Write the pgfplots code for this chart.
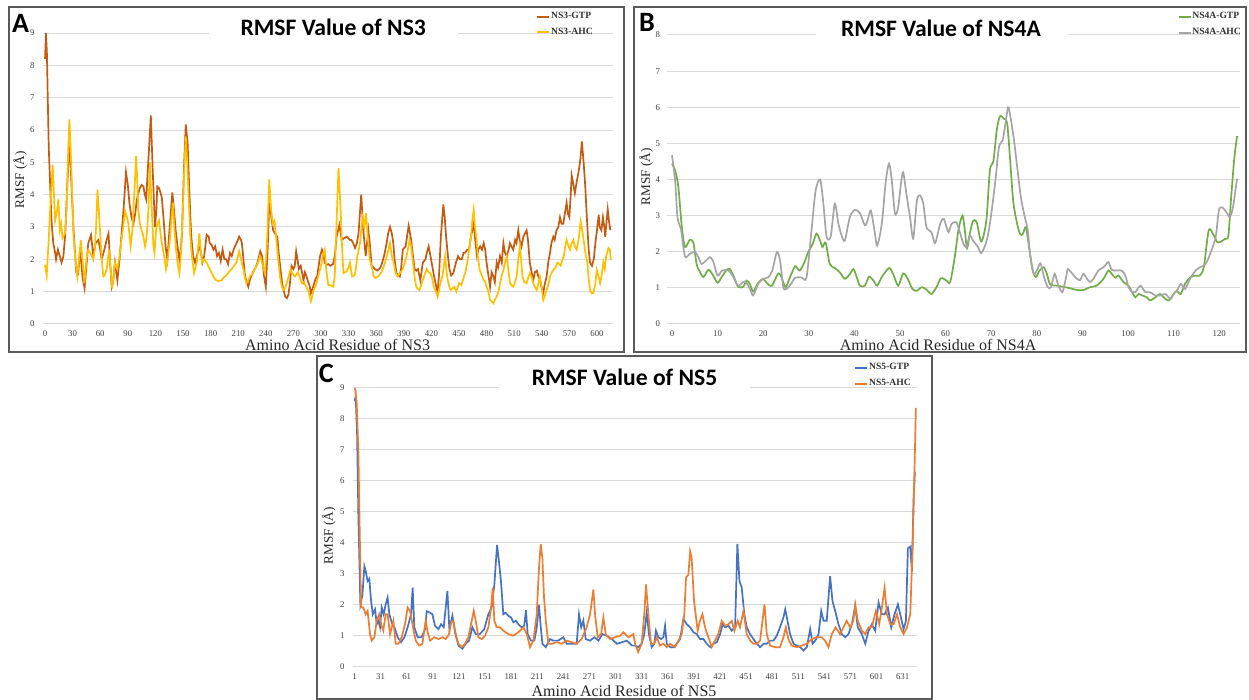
\documentclass[border=0pt]{standalone}
\usepackage{fontspec}
\setmainfont{Liberation Serif}
\newfontfamily\calfont{Carlito}
\usepackage{pgfplots}
\pgfplotsset{compat=1.18}
\definecolor{gtpA}{RGB}{197,90,17}
\definecolor{ahcA}{RGB}{255,192,0}
\definecolor{gtpB}{RGB}{112,173,71}
\definecolor{ahcB}{RGB}{165,165,165}
\definecolor{gtpC}{RGB}{68,114,196}
\definecolor{orangeC}{RGB}{237,125,49}
\definecolor{gridc}{RGB}{217,217,217}
\definecolor{boxc}{RGB}{90,90,90}
\pgfplotsset{rmsf/.style={
  scale only axis, anchor=south west,
  axis line style={draw=none},
  major tick length=0pt,
  ymin=0, ytick distance=1,
  ymajorgrids, grid style={color=gridc, line width=0.5pt},
  /pgf/number format/assume math mode=true,
  ticklabel style={font=\fontsize{4.4}{4.8}\selectfont, text=black!75},
  xticklabel style={anchor=center, yshift=-4.6pt},
  xlabel style={font=\fontsize{8}{9}\selectfont, text=black!85, anchor=center},
  ylabel style={font=\fontsize{6.6}{7}\selectfont, text=black!85, anchor=center},
  clip=false,
  legend style={draw=none, fill=none, inner sep=0pt, anchor=north west,
    font=\fontsize{4.8}{5}\selectfont\bfseries, text=black!80, row sep=2.4pt,
    nodes={inner sep=0.4pt}},
  legend cell align=left,
  legend image code/.code={\draw[#1, line width=1pt] (0pt,0pt) -- (6pt,0pt);},
  every axis plot/.append style={line width=0.85pt, no markers},
}}
\begin{document}
\begin{tikzpicture}
\useasboundingbox (0,0) rectangle (624.5pt,350pt);
% ---------------- Panel A ----------------
\begin{axis}[rmsf, at={(21.6pt,188pt)}, width=284.7pt, height=145.5pt,
  xmin=-2, xmax=617, ymax=9, xtick={0,30,...,600},
  yticklabel style={anchor=center, xshift=-5.4pt},
  xlabel={Amino Acid Residue of NS3}, ylabel={RMSF (Å)},
  xlabel style={at={(axis description cs:0.517,0)}, yshift=-10.5pt},
  ylabel style={at={(axis description cs:-0.0407,0.495)}},
  legend style={at={(0.8655,1.0766)}}]
\addplot[color=gtpA] coordinates {(0,8.2)(1,9.0)(2,8.4)(4,5.5)(7,3.2)(9,2.5)(11,2.2)(12,2.0)(14,2.3)(16,2.1)(18,1.9)(20,2.1)(22,2.8)(24,4.2)(26.5,5.65)(28,4.8)(31,2.9)(34,1.6)(36,1.55)(38,2.3)(41,1.4)(43,1.1)(45,1.8)(47,2.5)(50,2.75)(52.5,2.1)(55,2.5)(58,2.6)(60,2.3)(61.6,2.0)(64.5,2.3)(67,2.6)(69,2.8)(71,1.8)(72.5,1.15)(74,1.3)(76,1.9)(78.6,1.35)(81,2.0)(83,2.7)(85.5,3.6)(88,4.7)(90,4.3)(91.7,3.75)(94,3.3)(96,3.1)(98,3.4)(99.6,3.8)(101,4.0)(103,4.2)(105,4.3)(107,4.25)(108.5,4.0)(110,3.85)(111,4.4)(113,5.4)(115,6.45)(117,4.8)(119.5,3.0)(121,3.5)(122,4.25)(124,4.2)(125.7,4.05)(127,3.9)(129,3.2)(131,2.4)(133,2.0)(135,2.8)(138.4,4.07)(140,3.6)(142,2.9)(144,2.4)(146,2.0)(148,2.4)(149,2.9)(151,4.8)(153,6.17)(155,5.6)(156.5,4.4)(158,3.3)(159,2.7)(161,2.1)(163,1.9)(165,2.1)(167.7,2.4)(169,2.3)(171,1.9)(173,2.1)(175.7,2.76)(178,2.7)(179,2.5)(181,2.45)(183,2.3)(185,2.4)(187,2.1)(189,2.2)(191,1.95)(193,2.3)(195,2.0)(197,2.0)(199,1.85)(201,2.2)(203,2.1)(205,2.3)(206.5,2.4)(209,2.55)(211,2.7)(213,2.6)(214,2.5)(216,1.9)(217,1.57)(219,1.3)(221,1.15)(223,1.4)(226,1.6)(229,1.75)(231,1.9)(234,2.25)(236,2.1)(238,1.5)(240,1.15)(242,2.3)(244,3.95)(246,3.3)(248,2.9)(250,2.8)(252.5,2.7)(254,2.2)(256,1.7)(258,1.2)(261,0.85)(263,0.8)(264.5,0.9)(266,1.2)(268,1.8)(270,1.7)(271.5,1.8)(273,2.25)(275,1.9)(276,1.7)(278,1.8)(281,1.35)(282.5,1.6)(284,1.5)(286,1.3)(287.5,1.2)(289,0.95)(291,1.1)(293.5,1.35)(296,1.5)(299,2.1)(301,2.3)(302.5,2.2)(304,1.9)(306,1.83)(308,1.85)(310,1.8)(313,1.85)(315,2.1)(317,2.7)(320,3.07)(322.5,2.6)(325,2.65)(328,2.7)(331.5,2.6)(333,2.6)(335,2.5)(337,2.35)(339,2.5)(340.8,2.8)(343.7,4.0)(346,2.9)(348.6,2.1)(351.5,2.9)(353,2.5)(355,1.8)(358.7,1.7)(361,1.65)(364,1.72)(366,1.85)(368.5,2.1)(371.4,2.5)(373,2.8)(375,3.0)(377,2.8)(378.6,2.5)(380,2.0)(382,1.57)(385.7,1.47)(387,1.7)(389,2.3)(392,2.4)(394,2.8)(395.3,3.04)(398,2.6)(400,2.1)(401.8,1.7)(403.5,1.65)(405.4,1.7)(408,1.35)(410.7,1.9)(413.6,2.0)(415,2.2)(417,2.4)(419.7,2.0)(421.5,1.7)(423,1.47)(425,1.2)(426.7,0.95)(428.5,1.6)(430.3,2.7)(433,3.7)(434.5,3.3)(436,2.7)(438,2.1)(439.6,1.7)(441.5,1.5)(443.8,1.57)(446.7,1.9)(449,2.1)(451,2.0)(453,2.0)(455,2.2)(456.6,2.2)(459,2.3)(461,2.3)(463,2.7)(466,3.1)(468,2.5)(469.6,2.1)(471,2.3)(473,2.4)(475,2.3)(476.9,2.5)(478.5,2.3)(480,1.9)(482,1.5)(483.8,1.15)(485.5,1.6)(487.5,1.47)(489,1.3)(491,1.9)(492.5,1.75)(494.6,2.1)(496.5,1.9)(498.3,2.5)(500,2.2)(502,2.1)(504,2.3)(505.4,2.5)(507,2.4)(509,2.3)(511,2.6)(512.5,2.5)(514.5,2.9)(516,2.6)(518,2.4)(520,2.7)(523.5,2.9)(525,2.6)(527,1.9)(529,1.6)(530.8,1.35)(532.5,1.6)(534.5,1.65)(536,1.5)(538,1.35)(540,1.1)(541.6,0.95)(543,1.2)(545.3,1.47)(547,1.9)(549,2.2)(550.5,2.5)(552.5,2.7)(554,2.6)(556,2.9)(558,3.0)(559.8,3.3)(561.5,3.1)(563.4,3.1)(565,3.4)(567,3.75)(568.5,3.4)(570,3.3)(571.5,4.0)(572.5,4.6)(574.5,4.3)(576,4.05)(578,4.4)(580,4.7)(582,5.1)(583.6,5.65)(585.5,5.0)(587.3,4.25)(589,3.3)(591,2.3)(592.5,1.9)(594.6,1.8)(596.5,2.0)(598.3,2.5)(600,2.9)(601.9,3.38)(603,3.0)(604.8,2.9)(606.5,3.3)(608,3.0)(609,2.7)(610.5,3.2)(611.7,3.55)(613,3.2)(614.5,2.9)};
\addlegendentry{NS3-GTP}
\addplot[color=ahcA] coordinates {(0,1.83)(1.8,1.5)(4,2.6)(6,3.8)(8.3,4.93)(10,3.8)(11,3.2)(13,3.5)(14.5,3.85)(16,2.9)(17.5,3.1)(19,2.65)(21.7,2.8)(23.5,3.6)(25,5.2)(26.5,6.33)(28,5.3)(31,2.7)(33,2.0)(35,1.47)(37,2.0)(38.8,2.6)(41,1.9)(42.8,1.26)(45,2.0)(47,2.3)(49,2.2)(51,2.1)(52.5,2.0)(54,2.3)(55.5,3.0)(57,4.16)(58.5,3.5)(60,2.8)(61.6,2.0)(63.4,1.47)(65,1.5)(67,1.7)(69.6,2.3)(71.5,1.6)(73,1.1)(75,1.6)(76,1.9)(78.6,1.7)(81,2.1)(83,2.6)(85,3.0)(87,3.5)(89,3.3)(90.6,3.1)(92,2.7)(93,2.4)(95,2.9)(96,3.5)(97.5,4.3)(99,5.2)(100,4.6)(101.4,3.55)(103,3.1)(105,2.9)(107,2.7)(108.7,2.4)(110,2.6)(111,2.9)(112.5,3.6)(114,5.0)(115.5,3.9)(117.8,2.4)(119,2.2)(120.7,2.9)(122,3.1)(124,3.2)(125.5,2.8)(127.5,2.4)(129.5,2.1)(131.5,1.7)(133.5,2.0)(136,2.7)(137.5,3.3)(139,3.75)(140.5,3.0)(142.4,2.3)(144,1.9)(146,1.57)(147.5,2.0)(149.6,3.4)(151.5,4.9)(153,5.8)(154.5,5.0)(156.5,3.64)(158,2.7)(159,2.3)(160.5,1.9)(162,1.57)(165,1.9)(167.7,2.8)(169.5,2.2)(171,1.9)(173,2.0)(175.7,1.9)(179,1.7)(183,1.47)(186,1.35)(189,1.33)(192,1.35)(194.5,1.45)(197,1.5)(200,1.62)(203,1.7)(205.5,1.8)(208,1.9)(211,2.25)(213,2.0)(215.6,1.7)(217.5,1.4)(219,1.26)(221,1.35)(222.8,1.47)(225,1.55)(228,1.7)(231,1.85)(233.7,2.1)(236,1.9)(239,1.57)(241,2.3)(243.8,4.47)(245.5,3.6)(247.5,3.1)(249.5,3.2)(251.8,2.5)(253.5,2.0)(255.4,1.47)(257,1.2)(259,1.05)(261,1.1)(262.7,1.26)(265,1.5)(267,1.7)(269,1.55)(271.7,1.47)(273.5,1.55)(275,1.6)(277,1.45)(279,1.26)(281.5,1.3)(284,1.15)(286.5,1.0)(289,0.7)(290.5,0.85)(292,1.05)(294.5,1.2)(297,1.47)(299,1.7)(300.7,1.9)(302.5,2.2)(304,2.3)(306,1.6)(308,1.2)(310,1.2)(313.4,1.15)(315,1.5)(316,2.4)(317.5,3.6)(319,4.83)(320.5,4.0)(321.5,3.43)(323,2.3)(324.4,1.57)(326,1.6)(328,1.62)(330,1.75)(331.5,1.9)(333,1.6)(334,1.47)(337,1.52)(339.5,2.1)(341,2.3)(342.4,2.5)(344,3.0)(345.4,3.3)(347,3.0)(349,3.43)(350.5,2.8)(351.5,2.5)(353,2.0)(355,1.8)(357,1.5)(358.7,1.42)(362.3,1.47)(366,1.62)(368,1.75)(370,1.95)(372.5,2.2)(375,2.5)(377,2.1)(378.6,1.95)(381,1.6)(383,1.47)(385.7,1.57)(389,1.7)(391,1.9)(393,2.1)(396.4,2.6)(398,2.4)(400,1.9)(402,1.4)(403.6,1.15)(405,1.1)(407,1.05)(409,1.2)(410.7,1.36)(413,1.55)(415,1.7)(417,1.6)(419,1.57)(421,1.4)(422.6,1.15)(425,1.0)(426.7,0.85)(428,1.0)(429.3,1.2)(431,1.4)(432,1.47)(433.5,1.8)(435,2.1)(436.5,1.6)(437.5,1.42)(439,1.2)(441,1.05)(443,1.1)(444.7,1.15)(447,1.0)(450,1.26)(452.5,1.2)(455.4,1.47)(457,1.6)(459,1.9)(461,2.3)(463,2.7)(464.5,3.2)(466,3.54)(467.5,3.0)(468.8,2.7)(470.5,2.1)(472.5,1.67)(475,1.5)(476.9,1.36)(478.5,1.3)(480,1.15)(482,1.0)(483.8,0.74)(485.5,0.7)(487.5,0.64)(489,0.75)(491,0.85)(493,1.0)(494.6,1.26)(496.5,1.5)(498.3,1.67)(500,1.9)(502,2.1)(504,1.6)(505.4,1.26)(507,1.2)(509,1.15)(511,1.3)(512.7,1.47)(514.5,2.0)(516.3,2.4)(517.8,1.9)(519,1.47)(521,1.3)(523.5,1.26)(525,1.4)(527,1.57)(529,1.45)(530.8,1.26)(532.5,1.15)(534.5,1.05)(536,1.2)(538,1.47)(540,1.1)(541.6,0.74)(543,0.85)(545.3,1.05)(547,1.2)(549,1.47)(551,1.6)(552.5,1.67)(555,1.75)(557,1.9)(559,1.85)(560.5,1.8)(562,1.95)(564,2.1)(565.5,2.4)(567,2.6)(569,2.4)(570.7,2.3)(572.5,2.5)(574.3,2.6)(576,2.4)(578,2.3)(580,2.6)(582.3,3.17)(584,2.9)(586,2.5)(588,2.1)(589.6,1.9)(591,1.4)(592.5,1.05)(594.5,0.95)(596,0.95)(598,1.2)(599.8,1.67)(601.5,1.5)(603.4,1.26)(605,1.5)(607,1.9)(608.5,1.7)(610,2.1)(612.5,2.35)(614,2.3)(615,2.0)};
\addlegendentry{NS3-AHC}
\end{axis}
% ---------------- Panel B ----------------
\begin{axis}[rmsf, at={(333.7pt,188pt)}, width=286.2pt, height=144.5pt,
  xmin=-1, xmax=124.5, ymax=8, xtick={0,10,...,120},
  yticklabel style={anchor=center, xshift=-4.85pt},
  xlabel={Amino Acid Residue of NS4A}, ylabel={RMSF (Å)},
  xlabel style={at={(axis description cs:0.473,0)}, yshift=-10.5pt},
  ylabel style={at={(axis description cs:-0.0374,0.51)}},
  legend style={at={(0.8905,1.083)}},
  every axis plot/.append style={smooth, tension=0.45}]
\addplot[color=gtpB] coordinates {(0,4.44)(0.7,4.25)(1.4,3.8)(2.1,2.77)(2.85,2.13)(3.9,2.33)(4.7,2.25)(5.4,1.66)(6.1,1.45)(6.9,1.3)(8,1.5)(9,1.35)(10,1.14)(10.9,1.3)(12,1.5)(12.7,1.52)(13.6,1.3)(14.5,1.03)(15.6,1.03)(16.4,1.2)(17.1,1.1)(17.8,0.9)(18.9,1.14)(20,1.25)(20.8,1.13)(21.9,1.06)(23.3,1.4)(24,1.3)(24.9,1.02)(25.9,1.3)(27,1.6)(28,1.48)(29,1.7)(29.9,2.0)(30.8,2.2)(31.7,2.5)(32.5,2.3)(33,2.13)(33.7,2.25)(34.6,1.66)(35.7,1.55)(36.8,1.43)(37.9,1.25)(39,1.38)(39.8,1.52)(40.5,1.3)(41.2,1.06)(42.3,1.06)(43.2,1.31)(44.2,1.2)(45,1.06)(46,1.3)(47.6,1.55)(48.5,1.38)(49.6,1.06)(50.7,1.4)(51.7,1.25)(52.7,0.97)(53.7,0.92)(54.8,1.02)(55.8,0.95)(56.9,0.83)(58,1.02)(59,1.27)(60.2,1.2)(61,1.16)(62,1.85)(62.8,2.6)(63.7,3.0)(64.2,2.6)(64.7,2.1)(65.3,2.5)(66,2.85)(66.8,2.82)(67.7,2.3)(68.3,2.43)(69,2.95)(69.7,4.25)(70.5,4.53)(71.2,5.36)(71.9,5.75)(72.8,5.68)(73.5,5.55)(74.1,4.62)(74.8,3.42)(75.6,2.82)(76.3,2.5)(76.9,2.48)(77.6,2.68)(78.4,2.03)(79.1,1.48)(79.8,1.3)(80.6,1.48)(81.5,1.57)(82.2,1.39)(82.9,1.1)(84.4,1.06)(85.8,1.03)(87.3,0.99)(88.8,0.94)(90.2,0.94)(91.7,1.02)(93.1,1.06)(94.6,1.25)(95.7,1.48)(96.4,1.39)(97.2,1.28)(97.9,1.34)(99,1.16)(100.1,1.06)(100.9,0.88)(101.6,0.74)(102.3,0.83)(103.1,0.79)(104.1,0.74)(104.8,0.65)(106,0.74)(107,0.83)(107.8,0.74)(108.9,0.65)(110,0.83)(110.7,0.92)(111.5,0.83)(112.5,1.11)(113.6,1.29)(114.8,1.34)(115.7,1.34)(116.6,1.57)(117.7,2.6)(118.8,2.45)(119.5,2.27)(120.2,2.27)(121.3,2.36)(122,2.45)(122.6,3.5)(123.3,4.6)(123.9,5.2)};
\addlegendentry{NS4A-GTP}
\addplot[color=ahcB] coordinates {(0,4.67)(0.7,3.97)(1.2,2.96)(2,2.6)(2.85,1.87)(3.9,1.94)(5,2.0)(5.8,1.85)(6.5,1.66)(7.4,1.75)(8.3,1.85)(9,1.75)(10,1.34)(11,1.48)(12.4,1.48)(13.5,1.29)(14.5,1.06)(16,1.18)(17.1,0.97)(17.8,0.79)(18.9,1.11)(20,1.25)(21.1,1.29)(22,1.48)(23,1.99)(23.7,1.76)(24.4,1.02)(25.1,0.97)(26.1,1.11)(27,1.28)(28.4,1.29)(29.5,1.29)(30.6,2.6)(31.5,3.7)(32.5,4.0)(33.2,3.33)(33.9,2.42)(34.8,2.42)(35.7,3.33)(36.5,2.77)(37.2,2.45)(37.9,2.31)(39,2.96)(40.1,3.16)(41.2,3.07)(42.3,2.73)(42.9,2.87)(43.6,3.14)(44.4,2.59)(45,2.17)(46,2.77)(46.9,3.97)(47.6,4.44)(48.2,3.97)(48.9,3.05)(49.6,3.23)(50.2,3.88)(50.7,4.2)(51.5,3.51)(52.2,2.96)(52.9,2.36)(53.7,3.42)(54.4,3.56)(55.1,3.33)(55.8,2.68)(56.9,2.54)(57.7,2.24)(58.8,2.77)(59.6,2.91)(60.6,2.54)(61.3,2.77)(62.3,2.82)(63,2.59)(63.9,2.22)(64.6,2.13)(65.3,2.45)(66,2.31)(67.1,2.13)(67.8,1.96)(68.8,2.22)(69.5,2.6)(70.2,3.23)(71,4.07)(71.7,4.9)(72.5,5.08)(73,5.45)(73.7,6.0)(74.2,5.75)(75,5.08)(75.6,4.44)(76.5,3.51)(77.2,3.05)(78,2.6)(78.5,1.94)(79.3,1.39)(80,1.48)(80.8,1.68)(81.6,1.29)(82.4,1.02)(83.1,1.02)(83.9,1.39)(84.6,1.11)(85.6,0.88)(86.4,1.29)(86.8,1.52)(87.8,1.39)(88.8,1.25)(89.5,1.22)(90.2,1.39)(91,1.25)(91.7,1.16)(92.4,1.25)(93.5,1.48)(94.6,1.57)(95.7,1.71)(96.4,1.5)(97.5,1.48)(98.6,1.48)(99.4,1.34)(100.1,1.02)(100.9,0.88)(101.6,0.88)(102.7,1.06)(103.8,0.88)(104.8,0.88)(106,0.79)(107,0.79)(108.2,0.83)(109.3,0.69)(110,0.83)(110.7,0.92)(111.6,1.11)(112.5,0.97)(113.6,1.25)(114.8,1.48)(115.8,1.57)(117,1.66)(118,1.94)(119.2,2.4)(119.9,3.14)(120.6,3.23)(121.6,3.09)(122.3,2.96)(123,3.23)(123.9,4.02)};
\addlegendentry{NS4A-AHC}
\end{axis}
% ---------------- Panel C ----------------
\begin{axis}[rmsf, at={(176.4pt,16.5pt)}, width=281.9pt, height=139.5pt,
  xmin=-1, xmax=647, ymax=9, xtick={1,31,...,631},
  yticklabel style={anchor=center, xshift=-5.2pt},
  xlabel={Amino Acid Residue of NS5}, ylabel={RMSF (Å)},
  xlabel style={at={(axis description cs:0.481,0)}, yshift=-11.8pt},
  ylabel style={at={(axis description cs:-0.0426,0.47)}},
  legend style={at={(0.889,1.093)}}]
\addplot[color=gtpC] coordinates {(1,8.57)(2.3,8.73)(3.9,7.56)(5.4,4.9)(7.7,2.02)(10,2.3)(12.3,3.25)(13.8,3.1)(16,2.77)(18,2.85)(20,2.13)(22,1.7)(24.6,1.86)(26.5,1.38)(28.4,1.49)(30.3,1.28)(32.2,1.92)(34.5,1.7)(36.8,2.02)(39,2.24)(41,1.7)(43.7,1.44)(46.8,1.28)(50.6,0.96)(54.4,0.8)(58.3,0.96)(62,1.28)(66,1.7)(67.8,2.56)(69.7,1.28)(73.6,0.96)(78,0.96)(82,1.22)(84,1.8)(87.8,1.75)(90.5,1.7)(93.5,1.33)(97.4,1.22)(100.4,1.38)(103.5,1.28)(105,1.7)(107.7,2.45)(110,1.22)(113.5,1.65)(116.5,1.12)(120.4,0.69)(125,0.59)(128.7,0.75)(132.6,0.85)(136.4,1.28)(140.3,1.06)(145,1.06)(150,1.22)(154.8,1.7)(158.6,1.92)(161.7,2.66)(164.8,3.94)(167,3.4)(169.3,2.77)(172,1.7)(174.7,1.75)(177.8,1.65)(180.9,1.6)(183.6,1.44)(186.3,1.49)(189.3,1.38)(193,1.28)(196,1.33)(198,1.83)(200,1.06)(203.8,0.85)(207.7,0.85)(210.4,1.28)(213,2.0)(215,1.3)(216.9,0.75)(220.8,0.64)(225.7,0.9)(229.6,0.85)(235,0.85)(241,0.96)(244.8,0.75)(250.6,0.75)(256.3,0.75)(259,1.7)(261.5,1.28)(264,1.5)(266.7,0.9)(271.7,0.85)(276.7,0.96)(281.3,0.85)(286,1.06)(291,1.01)(296.8,0.9)(302.5,0.75)(308.5,0.8)(314,0.85)(320,0.69)(323.4,0.69)(327,0.64)(331,0.75)(334,1.06)(336.8,1.76)(339.4,1.06)(342.5,0.64)(345.5,0.75)(347.4,1.17)(350.2,0.96)(353.3,0.9)(356,0.96)(357.9,1.33)(359.8,0.75)(363.7,0.64)(367.5,0.64)(371.3,0.75)(375.2,0.9)(379,1.55)(382.8,1.38)(386.7,1.28)(390.5,1.12)(394.3,1.06)(398.2,0.9)(402,0.9)(405.8,0.75)(409.7,0.64)(413.5,0.75)(417.4,0.8)(421.2,1.06)(424,1.38)(427,1.28)(430.7,1.33)(434.5,1.17)(438.4,1.28)(441,3.97)(443.4,2.77)(446,2.56)(449,1.7)(451.8,1.28)(455.6,1.06)(459.5,0.9)(463.3,0.75)(467.1,0.64)(471,0.75)(474.8,0.75)(478.6,0.85)(482.5,0.85)(486.3,1.01)(490,1.28)(494,1.6)(496,1.86)(498.6,1.49)(501.6,1.06)(505.5,0.75)(509.3,0.69)(513.2,0.64)(517,0.53)(520.8,0.64)(524.7,1.22)(527.4,0.75)(530.5,0.85)(534.3,1.06)(537.4,1.81)(540,1.49)(543.7,1.49)(547.6,2.93)(550.3,2.13)(553.4,1.81)(557.2,1.38)(561,1.06)(565,0.96)(568.7,1.06)(572.6,1.38)(576.4,1.97)(579.4,1.28)(584,1.06)(588,0.75)(591.8,1.17)(595.6,1.38)(599.4,1.17)(603.3,2.08)(607.1,1.7)(610.2,1.7)(614,1.92)(617.8,1.28)(621.6,1.7)(625.5,2.02)(628.2,1.7)(632,1.22)(634.7,1.49)(637,3.83)(639.7,3.88)(641.6,3.09)(643.5,5.4)(645,6.3)};
\addlegendentry{NS5-GTP}
\addplot[color=orangeC] coordinates {(1.6,9.0)(3.5,8.5)(5.4,7.0)(6.9,4.47)(8.5,1.92)(11,1.92)(13.8,1.7)(16,1.81)(18.8,1.06)(20.7,0.85)(23.8,0.96)(26.5,1.49)(29.2,1.7)(31.5,1.38)(34,1.17)(36.8,1.7)(39,1.7)(41.8,1.06)(45.6,1.49)(48.3,0.75)(51.4,0.75)(55.2,0.96)(59,1.38)(62,1.92)(64.8,1.81)(68.6,1.22)(71.3,0.85)(75.2,0.69)(79,0.75)(82.8,1.49)(85,1.12)(87.8,0.85)(92.8,0.96)(97.4,0.9)(102,0.96)(105.8,0.9)(109.7,1.06)(112,1.44)(114.6,1.49)(117.3,1.06)(120.4,0.75)(124.2,0.64)(128,0.75)(131.8,0.96)(135.7,1.49)(138,1.81)(140.3,1.49)(143.4,0.96)(147.2,0.9)(151,1.01)(154.8,1.28)(157.9,1.92)(159.8,2.56)(161.7,1.49)(164.4,1.28)(168.2,1.28)(172,1.17)(177.8,1.06)(183.6,1.01)(189.3,1.12)(195,1.28)(199,1.06)(202.7,0.64)(206.6,0.85)(210.4,1.7)(213,3.2)(215,3.96)(216.9,3.5)(218.8,2.24)(220.8,1.49)(223.8,0.75)(227.7,0.75)(233.5,0.8)(239,0.75)(244.8,0.85)(250.6,0.8)(256.3,0.75)(262,0.9)(267.8,1.28)(271.7,1.7)(275.5,2.5)(277.4,1.7)(280.5,0.96)(284.3,1.06)(287,1.6)(289.7,1.06)(294.7,0.9)(300.4,0.96)(306.2,1.01)(310,1.12)(315.8,0.96)(321.5,1.06)(323.4,0.75)(327,0.48)(331,0.75)(334,1.7)(336,2.66)(338.7,1.7)(341.7,0.75)(345.5,0.75)(348.3,0.96)(352,0.69)(356,0.75)(359.8,0.64)(363.7,0.75)(369.4,0.64)(373.3,0.85)(377,1.06)(380,1.7)(382,2.88)(384.7,2.98)(386.7,3.73)(388.5,3.5)(391.2,2.13)(393.5,1.6)(395.4,1.17)(398,1.49)(400.8,1.7)(403.8,1.28)(407.7,0.96)(411.5,0.64)(415.3,0.85)(419,1.06)(423,1.49)(427,1.33)(430.7,1.38)(434.5,1.49)(437.6,1.17)(441.4,1.49)(444,1.28)(448,1.81)(451.8,1.06)(455.6,0.85)(459.5,0.75)(463.3,0.75)(467.1,0.85)(469.9,1.49)(472.2,2.02)(474.8,1.06)(478.6,0.69)(484.4,0.64)(490,0.64)(494,0.96)(496.7,1.28)(499.7,0.9)(503.5,0.69)(509.3,0.64)(515,0.69)(520.8,0.75)(526.6,0.9)(532.3,0.96)(538,0.96)(541.8,0.85)(545.7,0.64)(549.5,1.06)(554,1.28)(559,1.06)(562.9,1.28)(566.7,1.49)(570.5,1.28)(574.3,1.49)(576.4,2.02)(579.4,1.49)(584,1.17)(588,1.06)(591.8,1.28)(595.6,1.28)(600.2,1.81)(604,1.38)(607.1,1.92)(610.2,2.56)(612.9,1.7)(616.8,1.38)(620.6,1.38)(624.5,1.7)(628.2,1.28)(632,1.06)(635.9,1.28)(639.7,1.7)(642.4,3.83)(644.7,6.5)(646.2,8.36)};
\addlegendentry{NS5-AHC}
\end{axis}
% ---------------- titles, letters, frames ----------------
\fill[white] (104.5pt,329.5pt) rectangle (229pt,336.5pt);
\fill[white] (408pt,329.5pt) rectangle (534.5pt,336.5pt);
\fill[white] (249.5pt,153pt) rectangle (375pt,159.5pt);
\node[anchor=base, inner sep=0pt, font=\calfont\bfseries\fontsize{11.8}{13}\selectfont] at (166.6pt,332pt) {RMSF Value of NS3};
\node[anchor=base, inner sep=0pt, font=\calfont\bfseries\fontsize{11.8}{13}\selectfont] at (470.5pt,331.5pt) {RMSF Value of NS4A};
\node[anchor=base, inner sep=0pt, font=\calfont\bfseries\fontsize{11.8}{13}\selectfont] at (312.25pt,157pt) {RMSF Value of NS5};
\node[inner sep=0pt, font=\calfont\bfseries\fontsize{14}{15}\selectfont] at (10.3pt,338.3pt) {A};
\node[inner sep=0pt, font=\calfont\bfseries\fontsize{14}{15}\selectfont] at (323.5pt,338.8pt) {B};
\node[inner sep=0pt, font=\calfont\bfseries\fontsize{14}{15}\selectfont] at (163.2pt,163.5pt) {C};
\draw[boxc, line width=1pt] (4.25pt,174pt) rectangle (312pt,346.25pt);
\draw[boxc, line width=1pt] (317pt,174pt) rectangle (623pt,346.25pt);
\draw[boxc, line width=1pt] (158.5pt,0.5pt) rectangle (465.75pt,171.75pt);
\end{tikzpicture}
\end{document}
